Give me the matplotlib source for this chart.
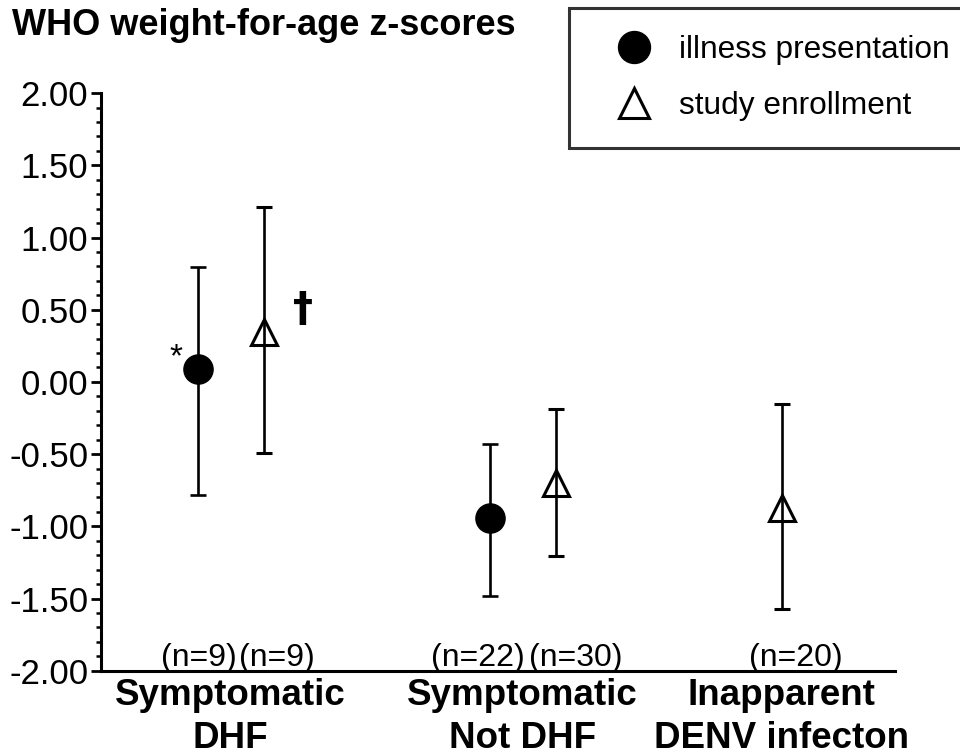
import matplotlib
matplotlib.use("Agg")
import matplotlib.pyplot as plt
from matplotlib.lines import Line2D
from matplotlib.ticker import MultipleLocator, FormatStrFormatter

plt.rcParams['font.family'] = ['Liberation Sans', 'DejaVu Sans']

# groups on the x axis
groups = ['Symptomatic\nDHF', 'Symptomatic\nNot DHF', 'Inapparent\nDENV infecton']
group_x = [0, 1, 1.887]

# illness presentation (filled circles): group index, mean, lower, upper
ill_group = [0, 1]
ill_mean = [0.09, -0.945]
ill_low = [-0.78, -1.48]
ill_high = [0.795, -0.43]
ill_n = ['(n=9)', '(n=22)']

# study enrollment (open triangles)
enr_group = [0, 1, 2]
enr_mean = [0.345, -0.70, -0.87]
enr_low = [-0.495, -1.205, -1.57]
enr_high = [1.21, -0.19, -0.155]
enr_n = ['(n=9)', '(n=30)', '(n=20)']

offset = 0.113

fig = plt.figure(figsize=(9.6, 7.56), dpi=100)
ax = fig.add_axes([0.105, 0.1128, 0.827, 0.764])

# illness presentation
x_ill = [group_x[g] - offset for g in ill_group]
err_ill = [[m - lo for m, lo in zip(ill_mean, ill_low)],
           [hi - m for m, hi in zip(ill_mean, ill_high)]]
ax.errorbar(x_ill, ill_mean, yerr=err_ill, fmt='o', color='black',
            markersize=21, elinewidth=1.9, capsize=6, capthick=1.9, zorder=3)

# study enrollment (the inapparent group has only this series -> centred)
x_enr = [group_x[g] + (offset if g in ill_group else 0) for g in enr_group]
err_enr = [[m - lo for m, lo in zip(enr_mean, enr_low)],
           [hi - m for m, hi in zip(enr_mean, enr_high)]]
ax.errorbar(x_enr, enr_mean, yerr=err_enr, fmt='^', color='black',
            markerfacecolor='none', markeredgewidth=2.2, markersize=19,
            elinewidth=1.9, capsize=6, capthick=1.9, zorder=3)

# n labels just above the x axis
for x, t in zip([-0.11, 0.846], ill_n):
    ax.text(x, -1.91, t, ha='center', va='center', fontsize=23)
for x, t in zip([0.158, 1.18, 1.935], enr_n):
    ax.text(x, -1.91, t, ha='center', va='center', fontsize=23)

# significance marks
ax.text(-0.188, 0.165, '*', ha='center', va='center', fontsize=24)
ax.text(0.247, 0.50, '\u2020', ha='center', va='center', fontsize=29,
        fontweight='bold', family=['DejaVu Sans'])

ax.set_xlim(-0.445, 2.274)
ax.set_ylim(-2.0, 2.0)
ax.set_xticks(group_x)
ax.set_xticklabels(groups, fontsize=26.5, fontweight='bold', linespacing=1.3)
ax.tick_params(axis='x', length=0, pad=5)

ax.yaxis.set_major_locator(MultipleLocator(0.5))
ax.yaxis.set_minor_locator(MultipleLocator(0.1))
ax.yaxis.set_major_formatter(FormatStrFormatter('%.2f'))
ax.tick_params(axis='y', which='major', length=7, width=2, labelsize=25, pad=2)
ax.tick_params(axis='y', which='minor', length=3.5, width=1.8)

for s in ['top', 'right']:
    ax.spines[s].set_visible(False)
for s in ['left', 'bottom']:
    ax.spines[s].set_linewidth(2.2)

fig.text(0.012, 0.966, 'WHO weight-for-age z-scores', fontsize=26,
         fontweight='bold', ha='left', va='center')

handles = [
    Line2D([], [], marker='o', linestyle='none', color='black', markersize=23),
    Line2D([], [], marker='^', linestyle='none', color='black',
           markerfacecolor='none', markeredgewidth=2.2, markersize=21),
]
leg = fig.legend(handles, ['illness presentation', 'study enrollment'],
                 loc='upper left', bbox_to_anchor=(569 / 960, 1 - 8 / 756),
                 bbox_transform=fig.transFigure, borderaxespad=0,
                 fontsize=22.8, frameon=True, fancybox=False, edgecolor='black',
                 handletextpad=0.21, labelspacing=0.83, borderpad=0.85,
                 handlelength=2.4)
leg.get_frame().set_linewidth(2.2)

fig.savefig('out.png', dpi=100)
